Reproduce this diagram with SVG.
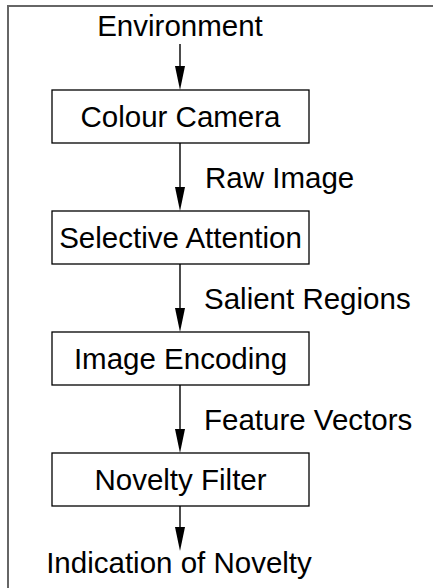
<svg xmlns="http://www.w3.org/2000/svg" width="433" height="588" viewBox="0 0 433 588">
<style>
text{font-family:"Liberation Sans",Arial,sans-serif;font-size:29.5px;fill:#000}
.c{text-anchor:middle}
.box{fill:#fff;stroke:#000;stroke-width:1.3}
.ln{stroke:#000;stroke-width:1.4;fill:none}
.frame{stroke:#666;stroke-width:2;fill:none}
</style>
<defs>
<marker id="ah" viewBox="0 0 10 24" refX="5" refY="24" markerWidth="10" markerHeight="24" markerUnits="userSpaceOnUse" orient="auto-start-reverse">
<path d="M0,0 L10,0 L5,24 Z" fill="#000"/>
</marker>
</defs>
<rect width="433" height="588" fill="#fff"/>
<path class="frame" d="M8,590 V6 H440"/>
<g id="connectors">
<line class="ln" x1="180" y1="44" x2="180" y2="66"/><path d="M175,66 L185,66 L180,90 Z"/>
<line class="ln" x1="180" y1="143" x2="180" y2="187"/><path d="M175,187 L185,187 L180,211 Z"/>
<line class="ln" x1="180" y1="264" x2="180" y2="308"/><path d="M175,308 L185,308 L180,332 Z"/>
<line class="ln" x1="180" y1="385" x2="180" y2="429"/><path d="M175,429 L185,429 L180,453 Z"/>
<line class="ln" x1="180" y1="506" x2="180" y2="527"/><path d="M175,527 L185,527 L180,551 Z"/>
<text x="205" y="188">Raw Image</text>
<text x="204" y="309">Salient Regions</text>
<text x="204" y="430">Feature Vectors</text>
</g>
<g id="environment"><text class="c" x="180" y="36">Environment</text></g>
<g id="colour-camera"><rect class="box" x="52" y="90" width="257" height="53"/><text class="c" x="180.5" y="127">Colour Camera</text></g>
<g id="selective-attention"><rect class="box" x="52" y="211" width="257" height="53"/><text class="c" x="180.5" y="248">Selective Attention</text></g>
<g id="image-encoding"><rect class="box" x="52" y="332" width="257" height="53"/><text class="c" x="180.5" y="369">Image Encoding</text></g>
<g id="novelty-filter"><rect class="box" x="52" y="453" width="257" height="53"/><text class="c" x="180.5" y="490">Novelty Filter</text></g>
<g id="indication"><text class="c" x="179" y="573">Indication of Novelty</text></g>
</svg>
